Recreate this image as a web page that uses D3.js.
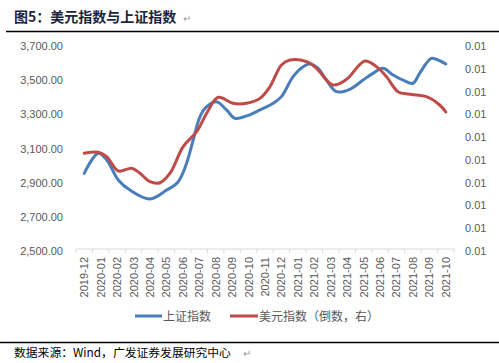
<!DOCTYPE html>
<head>
  <meta charset="utf-8">
  <script src="https://d3js.org/d3.v7.min.js"></script>
  <style>
    body { margin:0; background:#fff; }
    .tick text { font-family: "Liberation Sans", Arial, sans-serif; font-size:11px; fill:#595959; }
  </style>
</head>
<body>
  <script>
    // month categories on the x axis
    var months = ["2019-12","2020-01","2020-02","2020-03","2020-04","2020-05","2020-06","2020-07",
      "2020-08","2020-09","2020-10","2020-11","2020-12","2021-01","2021-02","2021-03","2021-04",
      "2021-05","2021-06","2021-07","2021-08","2021-09","2021-10"];

    // 上证指数: position in months from 2019-12, index level
    var szPos = [0,0.86,1.37,2.07,2.78,4.0,5.02,5.72,6.23,6.63,7.04,7.45,8.05,8.66,9.17,9.88,10.69,
      11.5,12.0,12.71,13.32,13.73,14.23,14.74,15.35,16.16,16.97,17.57,18.18,18.79,19.4,20.0,20.41,
      21.12,21.63,22];
    var szVal = [2943,3060,3021,2904,2845,2793,2845,2894,3002,3138,3274,3333,3362,3314,3265,3279,3314,
      3353,3392,3509,3567,3583,3558,3489,3421,3435,3489,3528,3558,3519,3489,3470,3528,
      3616,3602,3583];

    // 美元指数: position in months, index level (plotted as reciprocal on right axis)
    var dxyPos = [0,0.86,1.37,2.07,2.89,3.39,4.0,4.61,5.22,6.02,6.84,7.45,8.15,9.06,9.88,10.69,11.3,
      12.0,12.51,13.53,14.13,15.14,15.96,17.07,17.78,18.39,19.09,19.81,20.82,21.63,22];
    var dxyVal = [97.65,97.57,97.94,99.16,98.92,99.35,100.09,100.18,99.35,97.10,95.88,94.41,93.18,93.64,
      93.64,93.26,92.38,90.78,90.42,90.54,91.02,92.25,91.83,90.49,90.90,91.63,92.75,92.95,93.13,93.77,94.31];

    var leftTicks = [2500,2700,2900,3100,3300,3500,3700];
    var rightTicks = d3.range(0,10).map(function(i){ return 0.0094 + i*0.0002; });

    var W = 499, H = 363;
    var svg = d3.select("body").append("svg").attr("width",W).attr("height",H);

    var x0 = 76, x1 = 454, yTop = 44, yBot = 249;
    var xBand = d3.scaleBand().domain(months).range([x0,x1]);
    var x = d3.scaleLinear().domain([-0.5, months.length-0.5]).range([x0,x1]);
    var y = d3.scaleLinear().domain([2500,3700]).range([yBot,yTop]);
    var y2 = d3.scaleLinear().domain([0.0094,0.0112]).range([yBot,yTop]);

    // title
    svg.append("text").attr("x",14).attr("y",22)
      .style("font-family","'Noto Sans CJK SC', sans-serif").style("font-size","14px")
      .style("font-weight","bold").style("fill","#1c2540")
      .text("图5：美元指数与上证指数");
    svg.append("text").attr("x",183).attr("y",22).style("font-size","10px").style("fill","#999").text("↵");
    svg.append("line").attr("x1",6).attr("x2",499).attr("y1",31.5).attr("y2",31.5)
      .attr("stroke","#000").attr("stroke-width",1.3);

    // left axis
    var gl = svg.append("g").attr("transform","translate(" + 66 + ",2)")
      .call(d3.axisLeft(y).tickValues(leftTicks).tickSize(0).tickFormat(d3.format(",.2f")));
    gl.select(".domain").remove();

    // right axis
    var gr = svg.append("g").attr("transform","translate(" + 462 + ",2)")
      .call(d3.axisRight(y2).tickValues(rightTicks).tickSize(0).tickFormat(d3.format(".2f")));
    gr.select(".domain").remove();

    // x axis
    var gx = svg.append("g").attr("transform","translate(0," + yBot + ")");
    gx.append("line").attr("x1",x0).attr("x2",x1).attr("stroke","#d9d9d9");
    gx.selectAll("line.tk").data(d3.range(months.length+1)).enter().append("line")
      .attr("class","tk")
      .attr("x1",function(d){ return x0 + d*xBand.step(); })
      .attr("x2",function(d){ return x0 + d*xBand.step(); })
      .attr("y1",0).attr("y2",4).attr("stroke","#d9d9d9");
    gx.selectAll("text").data(months).enter().append("text")
      .attr("transform",function(d){ return "translate(" + (xBand(d)+xBand.bandwidth()/2+4) + ",8) rotate(-90)"; })
      .attr("text-anchor","end")
      .style("font-family","'Liberation Sans', Arial, sans-serif").style("font-size","11px").style("fill","#595959")
      .text(function(d){ return d; });

    var sz = szPos.map(function(p,i){ return [p, szVal[i]]; });
    var dxy = dxyPos.map(function(p,i){ return [p, 1/dxyVal[i]]; });

    var lineL = d3.line().curve(d3.curveCatmullRom.alpha(0.5))
      .x(function(d){ return x(d[0]); }).y(function(d){ return y(d[1]); });
    var lineR = d3.line().curve(d3.curveCatmullRom.alpha(0.5))
      .x(function(d){ return x(d[0]); }).y(function(d){ return y2(d[1]); });

    svg.append("path").datum(sz).attr("d",lineL).attr("fill","none")
      .attr("stroke","#4a7ebb").attr("stroke-width",3).attr("stroke-linecap","round");
    svg.append("path").datum(dxy).attr("d",lineR).attr("fill","none")
      .attr("stroke","#be4b48").attr("stroke-width",3).attr("stroke-linecap","round");

    // legend
    var lg = svg.append("g").style("font-family","'Noto Sans CJK SC', sans-serif").style("font-size","12px").style("fill","#595959");
    lg.append("line").attr("x1",135).attr("x2",162).attr("y1",316).attr("y2",316).attr("stroke","#4a7ebb").attr("stroke-width",3);
    lg.append("text").attr("x",163).attr("y",320.5).text("上证指数");
    lg.append("line").attr("x1",230).attr("x2",258).attr("y1",316).attr("y2",316).attr("stroke","#be4b48").attr("stroke-width",3);
    lg.append("text").attr("x",259).attr("y",320.5).text("美元指数（倒数，右）");

    // source
    svg.append("line").attr("x1",0).attr("x2",499).attr("y1",342.5).attr("y2",342.5)
      .attr("stroke","#000").attr("stroke-width",1.3);
    svg.append("text").attr("x",14).attr("y",357)
      .style("font-family","'Noto Sans CJK SC', sans-serif").style("font-size","11.8px").style("fill","#000")
      .text("数据来源：Wind，广发证券发展研究中心");
    svg.append("text").attr("x",243).attr("y",357).style("font-size","10px").style("fill","#999").text("↵");
  </script>
</body>
